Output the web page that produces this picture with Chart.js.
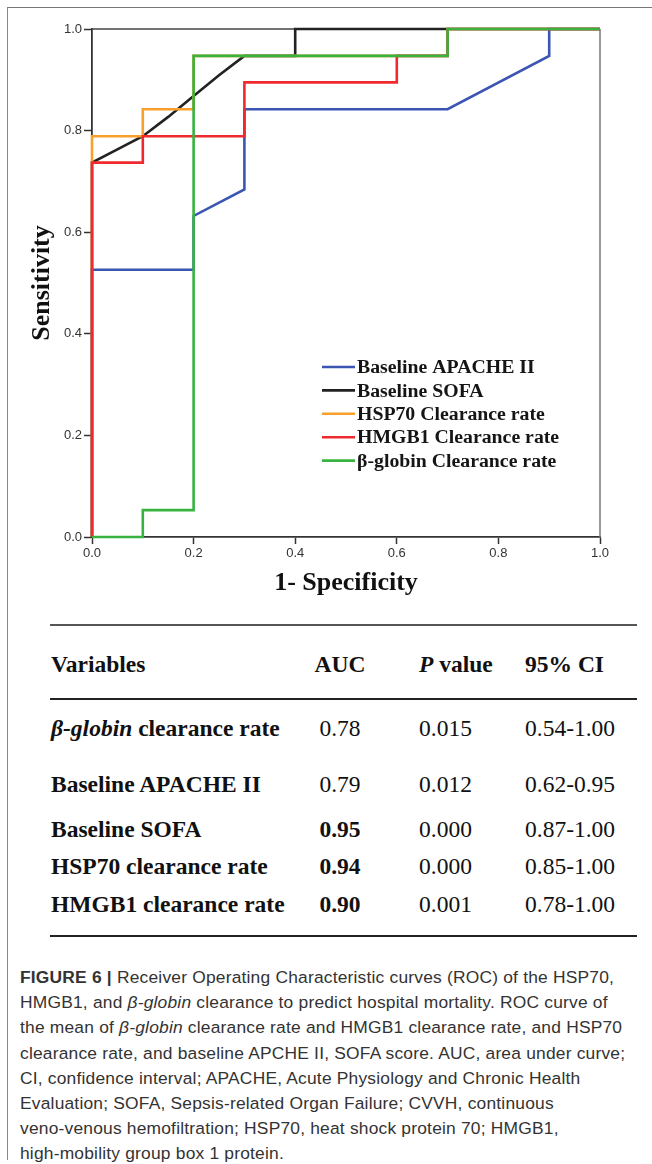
<!DOCTYPE html>
<html>
<head>
<meta charset="utf-8">
<script src="https://cdn.jsdelivr.net/npm/chart.js@4.4.1/dist/chart.umd.min.js"></script>
<style>
  html, body { margin:0; padding:0; background:#fff; }
  body { width:652px; height:1164px; position:relative; overflow:hidden; }
  #frame { position:absolute; left:7px; top:7px; width:660px; height:1152px; border-left:1.5px solid #888; border-top:1.5px solid #777; }
  #chartBox { position:absolute; left:0; top:0; width:652px; height:600px; }
  .rule { position:absolute; left:50px; width:587px; height:2px; background:#333; }
  .cell { position:absolute; font-family:'Liberation Serif','Times New Roman',serif; font-size:23.5px; color:#111; transform:translateY(-50%); white-space:nowrap; line-height:1; }
  .b { font-weight:bold; }
  .ctr { transform:translate(-50%,-50%); }
  #caption { position:absolute; left:20px; top:965px; width:630px; font-family:'Liberation Sans',Arial,sans-serif; font-size:17.4px; letter-spacing:0.2px; line-height:25.2px; color:#333; white-space:nowrap; }
</style>
</head>
<body>
<div id="frame"></div>
<div id="chartBox"><canvas id="c" width="652" height="600"></canvas></div>
<div id="table"></div>
<div id="caption"></div>
<script>
// ---- data ----
const seriesNames = ['Baseline APACHE II', 'Baseline SOFA', 'HSP70 Clearance rate', 'HMGB1 Clearance rate', 'β-globin Clearance rate'];
const seriesColors = ['#3a55b2', '#222222', '#f7a02c', '#ee2a2e', '#38b340'];
const apacheX = [0, 0, 0.2, 0.2, 0.3, 0.3, 0.7, 0.9, 0.9, 1.0];
const apacheY = [0, 0.526, 0.526, 0.632, 0.684, 0.842, 0.842, 0.947, 1.0, 1.0];
const sofaX = [0, 0, 0.05, 0.1, 0.15, 0.2, 0.25, 0.3, 0.4, 0.4, 1.0];
const sofaY = [0, 0.737, 0.763, 0.789, 0.827, 0.868, 0.909, 0.947, 0.947, 1.0, 1.0];
const hsp70X = [0, 0, 0.1, 0.1, 0.2, 0.2, 0.7, 0.7, 1.0];
const hsp70Y = [0, 0.789, 0.789, 0.842, 0.842, 0.947, 0.947, 1.0, 1.0];
const hmgb1X = [0, 0, 0.1, 0.1, 0.3, 0.3, 0.6, 0.6, 0.7, 0.7, 1.0];
const hmgb1Y = [0, 0.737, 0.737, 0.789, 0.789, 0.895, 0.895, 0.947, 0.947, 1.0, 1.0];
const globinX = [0, 0.1, 0.1, 0.2, 0.2, 0.7, 0.7, 1.0];
const globinY = [0, 0, 0.053, 0.053, 0.947, 0.947, 1.0, 1.0];
const tickValues = [0, 0.2, 0.4, 0.6, 0.8, 1.0];
const xTitle = '1- Specificity';
const yTitle = 'Sensitivity';

const tableHeaders = ['Variables', 'AUC', '<i>P</i> value', '95% CI'];
const rowLabels = ['<i>β-globin</i> clearance rate', 'Baseline APACHE II', 'Baseline SOFA', 'HSP70 clearance rate', 'HMGB1 clearance rate'];
const aucValues = ['0.78', '0.79', '0.95', '0.94', '0.90'];
const aucBold = [false, false, true, true, true];
const pValues = ['0.015', '0.012', '0.000', '0.000', '0.001'];
const ciValues = ['0.54-1.00', '0.62-0.95', '0.87-1.00', '0.85-1.00', '0.78-1.00'];

const captionLines = [
  '<b>FIGURE 6 |</b> Receiver Operating Characteristic curves (ROC) of the HSP70,',
  'HMGB1, and <i>β-globin</i> clearance to predict hospital mortality. ROC curve of',
  'the mean of <i>β-globin</i> clearance rate and HMGB1 clearance rate, and HSP70',
  'clearance rate, and baseline APCHE II, SOFA score. AUC, area under curve;',
  'CI, confidence interval; APACHE, Acute Physiology and Chronic Health',
  'Evaluation; SOFA, Sepsis-related Organ Failure; CVVH, continuous',
  'veno-venous hemofiltration; HSP70, heat shock protein 70; HMGB1,',
  'high-mobility group box 1 protein.'
];

// ---- chart ----
const xs = [apacheX, sofaX, hsp70X, hmgb1X, globinX];
const ys = [apacheY, sofaY, hsp70Y, hmgb1Y, globinY];
const drawOrder = [4, 3, 2, 1, 0];
const datasets = seriesNames.map((name, i) => ({
  label: name,
  data: xs[i].map((x, j) => ({ x: x, y: ys[i][j] })),
  borderColor: seriesColors[i],
  borderWidth: 2.6,
  pointRadius: 0,
  tension: 0,
  fill: false,
  clip: 6,
  order: drawOrder[i]
}));

const framePlugin = {
  id: 'frame',
  beforeDatasetsDraw(chart) {
    const a = chart.chartArea, ctx = chart.ctx;
    ctx.save();
    ctx.lineWidth = 1.5;
    ctx.strokeStyle = '#444';
    ctx.beginPath(); ctx.moveTo(a.left, a.top); ctx.lineTo(a.right, a.top); ctx.stroke();
    ctx.strokeStyle = '#777';
    ctx.beginPath(); ctx.moveTo(a.right, a.top); ctx.lineTo(a.right, a.bottom); ctx.stroke();
    ctx.restore();
  }
};
const legendPlugin = {
  id: 'innerLegend',
  afterDatasetsDraw(chart) {
    const ctx = chart.ctx;
    ctx.save();
    ctx.font = 'bold 19.8px "Liberation Serif", serif';
    ctx.textBaseline = 'middle';
    seriesNames.forEach((n, i) => {
      const y = 367 + i * 23.4;
      ctx.strokeStyle = seriesColors[i];
      ctx.lineWidth = 2.6;
      ctx.beginPath(); ctx.moveTo(322, y); ctx.lineTo(355, y); ctx.stroke();
      ctx.fillStyle = '#151515';
      ctx.fillText(n, 357, y + 1);
    });
    ctx.restore();
  }
};

const tickFont = { family: '"Liberation Sans", Arial, sans-serif', size: 13 };
new Chart(document.getElementById('c'), {
  type: 'line',
  data: { datasets: datasets },
  options: {
    responsive: false,
    animation: false,
    layout: { padding: { top: 29, right: 52, left: 0, bottom: 0 } },
    plugins: { legend: { display: false }, tooltip: { enabled: false } },
    scales: {
      x: {
        type: 'linear', min: 0, max: 1,
        afterBuildTicks: s => { s.ticks = tickValues.map(v => ({ value: v })); },
        afterFit: s => { s.height = 63; },
        ticks: { callback: v => v.toFixed(1), font: tickFont, color: '#333', padding: 2, maxRotation: 0 },
        grid: { drawOnChartArea: false, tickLength: 7, color: '#333', tickWidth: 1.5 },
        border: { color: '#333', width: 1.8 },
        title: { display: true, text: xTitle, color: '#111', font: { family: '"Liberation Serif", serif', size: 26, weight: 'bold' }, padding: { top: 0, bottom: 1 } }
      },
      y: {
        type: 'linear', min: 0, max: 1,
        afterBuildTicks: s => { s.ticks = tickValues.map(v => ({ value: v })); },
        afterFit: s => { s.width = 92; },
        ticks: { callback: v => v.toFixed(1), font: tickFont, color: '#333', padding: 2 },
        grid: { drawOnChartArea: false, tickLength: 8, color: '#333', tickWidth: 1.5 },
        border: { color: '#333', width: 1.8 },
        title: { display: true, text: yTitle, color: '#111', font: { family: '"Liberation Serif", serif', size: 26, weight: 'bold' }, padding: { top: 27, bottom: 0 } }
      }
    }
  },
  plugins: [framePlugin, legendPlugin]
});

// ---- table ----
const tbl = document.getElementById('table');
function addRule(y, color) { const d = document.createElement('div'); d.className = 'rule'; d.style.top = (y - 1) + 'px'; d.style.background = color; tbl.appendChild(d); }
function addCell(html, x, y, bold, center) {
  const d = document.createElement('div');
  d.className = 'cell' + (bold ? ' b' : '') + (center ? ' ctr' : '');
  d.style.left = x + 'px'; d.style.top = y + 'px';
  d.innerHTML = html; tbl.appendChild(d);
}
const colX = [51, 340, 419, 525];
const headerY = 665;
const rowY = [729, 785, 830, 867, 905];
addRule(625, '#555');
addRule(699, '#222');
addRule(936, '#222');
tableHeaders.forEach((h, i) => addCell(h, colX[i], headerY, true, i === 1));
rowLabels.forEach((l, r) => {
  addCell(l, colX[0], rowY[r], true, false);
  addCell(aucValues[r], colX[1], rowY[r], aucBold[r], true);
  addCell(pValues[r], colX[2], rowY[r], false, false);
  addCell(ciValues[r], colX[3], rowY[r], false, false);
});

// ---- caption ----
document.getElementById('caption').innerHTML = captionLines.join('<br>');
</script>
</body>
</html>
